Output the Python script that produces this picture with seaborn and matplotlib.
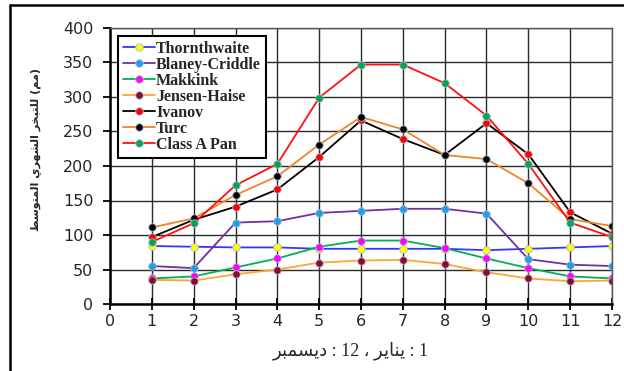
import matplotlib
matplotlib.use("Agg")
import matplotlib.pyplot as plt
from matplotlib.lines import Line2D
import seaborn as sns

# Months (1 = January ... 12 = December)
months = [1, 2, 3, 4, 5, 6, 7, 8, 9, 10, 11, 12]

# Mean monthly evaporation (mm) by method
thornthwaite = [84, 83, 82, 82, 80, 80, 80, 80, 78, 80, 82, 84]
blaney_criddle = [55, 52, 118, 120, 132, 135, 138, 138, 131, 65, 57, 55]
makkink = [37, 40, 53, 66, 83, 92, 92, 81, 66, 52, 40, 37]
jensen_haise = [35, 34, 43, 50, 60, 63, 64, 58, 46, 37, 33, 34]
ivanov = [97, 122, 141, 166, 213, 266, 239, 216, 262, 217, 133, 102]
turc = [111, 124, 158, 185, 231, 271, 253, 216, 210, 175, 123, 113]
class_a_pan = [90, 117, 172, 203, 299, 347, 347, 320, 273, 203, 118, 97]

series_names = ["Thornthwaite", "Blaney-Criddle", "Makkink", "Jensen-Haise",
                "Ivanov", "Turc", "Class A Pan"]
series_values = [thornthwaite, blaney_criddle, makkink, jensen_haise,
                 ivanov, turc, class_a_pan]
line_colors = ["#3535FF", "#7030A0", "#00B050", "#FFA530",
               "#000000", "#F08428", "#FF1010"]
marker_colors = ["#FFFF00", "#1EA0E8", "#FF00FF", "#8B0A30",
                 "#FF0000", "#000000", "#00A651"]

x_ticks = list(range(0, 13))
y_ticks = list(range(0, 401, 50))

# Arabic labels in shaped presentation forms, laid out in display order
y_label = ("\uFEC2\uFEB3\uFEEE\uFE98\uFEE4\uFEDF\uFE8D "
           "\uFEF1\uFEAE\uFEEC\uFEB8\uFEDF\uFE8D "
           "\uFEAE\uFEA8\uFE92\uFE98\uFEE0\uFEDF "
           "(\uFEE2\uFEE3)")
x_label = ("\uFEAE\uFE92\uFEE4\uFEB4\uFEF3\uFEA9 : 12 \u060C "
           "\uFEAE\uFEF3\uFE8E\uFEE8\uFEF3 : 1")

sns.set_theme(style="white")
plt.rcParams["font.family"] = ["DejaVu Sans"]

fig = plt.figure(figsize=(6.24, 3.71), dpi=100)
ax = fig.add_axes([110 / 624, 67 / 371, 502 / 624, 276 / 371])

for name, vals, lc, mc in zip(series_names, series_values, line_colors, marker_colors):
    sns.lineplot(x=months, y=vals, ax=ax, color=lc, linewidth=1.3,
                 marker="o", markersize=5.4, markerfacecolor=mc,
                 markeredgecolor="#A8B8C8", markeredgewidth=0.6,
                 label=name, sort=False)

ax.set_xlim(0, 12)
ax.set_ylim(0, 400)
ax.set_xticks(x_ticks)
ax.set_yticks(y_ticks)
ax.set_xlabel("")
ax.set_ylabel("")
ax.grid(True, color="#2a2a2a", linewidth=1.0)
ax.set_axisbelow(True)

for side in ["left", "bottom"]:
    ax.spines[side].set_color("black")
    ax.spines[side].set_linewidth(1.8)
for side in ["top", "right"]:
    ax.spines[side].set_color("#555555")
    ax.spines[side].set_linewidth(1.0)

ax.tick_params(axis="y", direction="out", length=5, width=1.3, color="black",
               pad=7, labelsize=11.5, left=True)
ax.tick_params(axis="x", direction="inout", length=8, width=1.3, color="black",
               pad=3, labelsize=11.5, bottom=True)

leg = ax.legend(loc="upper left", bbox_to_anchor=(0.016, 0.971), borderaxespad=0,
                frameon=True, fancybox=False, framealpha=1, edgecolor="black",
                prop={"family": "Liberation Serif", "weight": "bold", "size": 11.5},
                handlelength=2.0, handletextpad=0.08, labelspacing=0.0,
                borderpad=0.3)
leg.get_frame().set_linewidth(1.5)

fig.text(36 / 624, 1 - 150 / 371, y_label, rotation=90, ha="center", va="center",
         fontsize=8, fontweight="bold", family=["DejaVu Sans"])
fig.text(351 / 624, 1 - 351 / 371, x_label, ha="center", va="center",
         fontsize=13, family=["Liberation Serif", "DejaVu Sans"])

# Page frame along the left and top edges
fig.add_artist(Line2D([10 / 624, 10 / 624], [0, 1 - 5 / 371], color="black",
                      linewidth=1.8, transform=fig.transFigure))
fig.add_artist(Line2D([10 / 624, 1], [1 - 5 / 371, 1 - 5 / 371], color="black",
                      linewidth=1.8, transform=fig.transFigure))

fig.savefig("out.png", dpi=100)
